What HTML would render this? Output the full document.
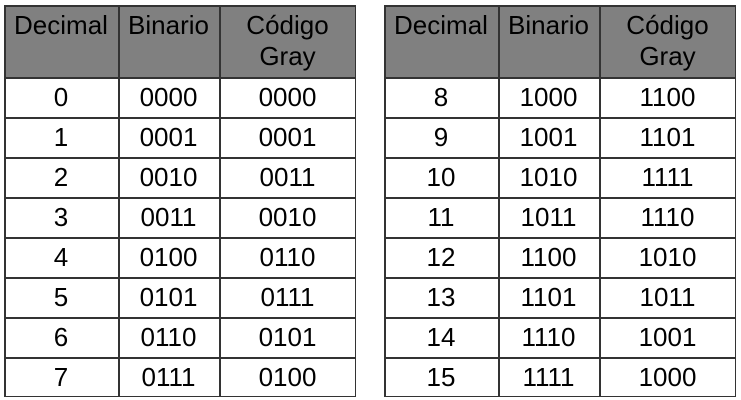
<!DOCTYPE html>
<html><head><meta charset="utf-8"><style>
body{margin:0;width:741px;height:400px;background:#fff;position:relative;overflow:hidden;font-family:"Liberation Sans",Arial,sans-serif;}
.t{position:absolute;top:5px;width:352px;height:392px;}
.h{position:absolute;left:0;top:0;width:352px;height:72px;background:#808080}
.c{position:absolute;text-align:center;font-size:26px;color:#000;line-height:31px}
.vl{position:absolute;top:0;width:1.5px;height:392px;background:#333}
.hl{position:absolute;left:0;width:352px;height:1.5px;background:#333}
</style></head><body>
<script>
const left=[["0","0000","0000"],["1","0001","0001"],["2","0010","0011"],["3","0011","0010"],["4","0100","0110"],["5","0101","0111"],["6","0110","0101"],["7","0111","0100"]];
const right=[["8","1000","1100"],["9","1001","1101"],["10","1010","1111"],["11","1011","1110"],["12","1100","1010"],["13","1101","1011"],["14","1110","1001"],["15","1111","1000"]];
const cols=[0,114,215,352];
function build(x,rows,name){
  const t=document.createElement('div');t.className='t';t.style.left=x+'px';
  
  
  const h=document.createElement('div');h.className='h';
  
  
  t.appendChild(h);
  const heads=["Decimal","Binario","Código<br>Gray"];
  heads.forEach((s,i)=>{const c=document.createElement('div');c.className='c';
    
    
    c.style.left=cols[i]+'px';c.style.width=(cols[i+1]-cols[i])+'px';c.style.top='5px';c.innerHTML=s;t.appendChild(c);});
  rows.forEach((r,j)=>{r.forEach((s,i)=>{const c=document.createElement('div');c.className='c';
    
    
    c.style.left=cols[i]+'px';c.style.width=(cols[i+1]-cols[i])+'px';c.style.top=(72+40*j+5)+'px';c.textContent=s;t.appendChild(c);});});
  cols.forEach(cx=>{const l=document.createElement('div');l.className='vl';l.style.left=(cx===352?350.5:cx)+'px';
    
    
    t.appendChild(l);});
  for(let j=0;j<=9;j++){const y=j===0?0:(72+40*(j-1));const l=document.createElement('div');l.className='hl';l.style.top=(j===9?390.5:y)+'px';
    
    
    t.appendChild(l);}
  document.body.appendChild(t);
}
build(4,left,'gray-table-left');
build(384,right,'gray-table-right');
</script>
</body></html>
